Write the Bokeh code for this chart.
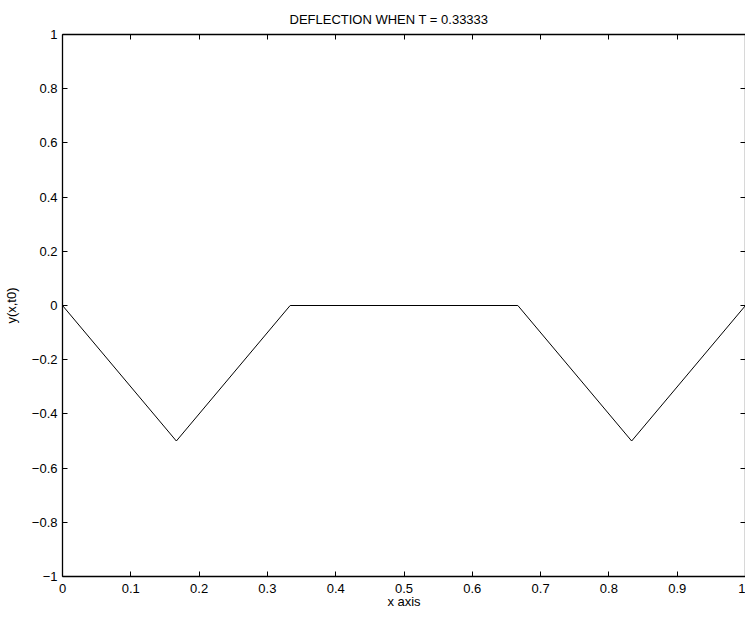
from bokeh.plotting import figure
from bokeh.models import LinearAxis, FixedTicker, Range1d, CustomLabelingPolicy
from bokeh.embed import file_html
from bokeh.resources import INLINE

# data: deflection profile at t = 1/3
x_vals = [0.0, 0.1667, 0.3333, 0.6667, 0.8333, 1.0]
y_vals = [0.0, -0.5, 0.0, 0.0, -0.5, 0.0]

x_ticks = [0, 0.1, 0.2, 0.3, 0.4, 0.5, 0.6, 0.7, 0.8, 0.9, 1]
x_tick_labels = ["0", "0.1", "0.2", "0.3", "0.4", "0.5", "0.6", "0.7", "0.8", "0.9", "1"]
y_ticks = [-1, -0.8, -0.6, -0.4, -0.2, 0, 0.2, 0.4, 0.6, 0.8, 1]
y_tick_labels = ["\u22121", "\u22120.8", "\u22120.6", "\u22120.4", "\u22120.2", "0",
                 "0.2", "0.4", "0.6", "0.8", "1"]

title_text = "DEFLECTION WHEN T = 0.33333"
FONT = "Liberation Sans"
FS = "13px"

p = figure(width=745, height=611, output_backend="svg", toolbar_location=None,
           x_range=Range1d(0, 1), y_range=Range1d(-1, 1),
           x_axis_location=None, y_axis_location=None,
           min_border_left=62, min_border_right=0, min_border_top=34, min_border_bottom=23)
p.background_fill_color = "white"
p.border_fill_color = "white"
p.outline_line_color = None
p.xgrid.visible = False
p.ygrid.visible = False

p.title.text = title_text
p.title.align = "left"
p.title.text_font = FONT
p.title.text_font_size = FS
p.title.text_font_style = "normal"
p.title.text_color = "black"
p.title.standoff = 15
p.title.offset = 227


def style_axis(ax, show_labels):
    ax.axis_line_color = "black"
    ax.axis_line_width = 1.3
    ax.major_tick_in = 5
    ax.major_tick_out = 0
    ax.minor_tick_in = 0
    ax.minor_tick_out = 0
    ax.major_tick_line_color = "black"
    ax.major_label_text_font = FONT
    ax.major_label_text_font_size = FS if show_labels else "0px"
    ax.major_label_text_color = "black"
    ax.major_label_standoff = 5 if show_labels else 0
    ax.axis_label_text_font = FONT
    ax.axis_label_text_font_size = FS
    ax.axis_label_text_font_style = "normal"
    ax.axis_label_text_color = "black"
    if not show_labels:
        ax.major_label_policy = CustomLabelingPolicy(code="return new Set()")


xb = LinearAxis(ticker=FixedTicker(ticks=x_ticks),
                major_label_overrides=dict(zip(x_ticks, x_tick_labels)),
                axis_label="x axis")
style_axis(xb, True)
xb.major_label_standoff = 7
xb.axis_label_standoff = -2
p.add_layout(xb, "below")

yl = LinearAxis(ticker=FixedTicker(ticks=y_ticks),
                major_label_overrides=dict(zip(y_ticks, y_tick_labels)),
                axis_label="y(x,t0)")
style_axis(yl, True)
yl.axis_label_standoff = 10
p.add_layout(yl, "left")

xt = LinearAxis(ticker=FixedTicker(ticks=x_ticks), axis_label=None)
style_axis(xt, False)
p.add_layout(xt, "above")

yr = LinearAxis(ticker=FixedTicker(ticks=y_ticks), axis_label=None)
style_axis(yr, False)
p.add_layout(yr, "right")

p.line(x_vals, y_vals, line_color="black", line_width=1)

open("out.html", "w").write(file_html(p, INLINE))
